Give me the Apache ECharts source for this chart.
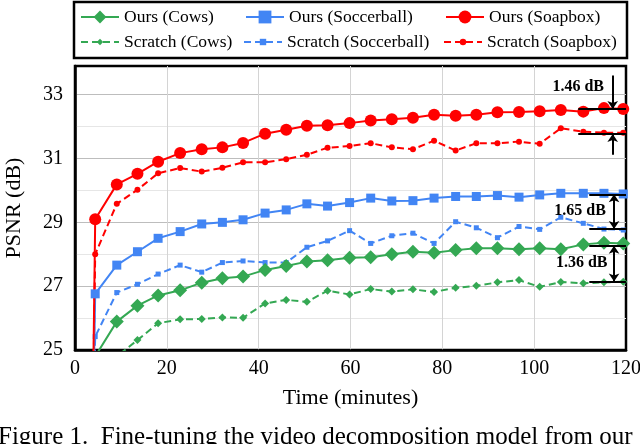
<!DOCTYPE html>
<html>
<head>
<meta charset="utf-8">
<script src="https://cdn.jsdelivr.net/npm/echarts@6/dist/echarts.min.js"></script>
<style>
  html, body { margin: 0; padding: 0; background: #fff; }
  #chart { width: 640px; height: 444px; }
</style>
</head>
<body>
<div id="chart"></div>
<script>
// time of each evaluation (minutes), shared by all runs
const times = [3.6, 4.4, 9.1, 13.6, 18.1, 22.9, 27.6, 32.1, 36.6, 41.4, 46.0, 50.5, 55.0, 59.8,
  64.4, 69.0, 73.6, 78.2, 82.9, 87.4, 92.0, 96.7, 101.2, 105.8, 110.7, 115.2, 119.4];

// PSNR (dB)
const oursCows = [23.5, 24.8, 25.89, 26.39, 26.71, 26.87, 27.11, 27.25, 27.30, 27.51, 27.63, 27.77, 27.81, 27.89,
  27.91, 28.00, 28.08, 28.05, 28.13, 28.19, 28.19, 28.16, 28.19, 28.16, 28.31, 28.36, 28.34];
const oursSoccer = [20, 26.76, 27.66, 28.08, 28.50, 28.71, 28.95, 29.00, 29.08, 29.29, 29.39, 29.58, 29.51, 29.62,
  29.76, 29.67, 29.68, 29.76, 29.81, 29.81, 29.84, 29.79, 29.86, 29.91, 29.91, 29.91, 29.89];
const oursSoapbox = [20, 29.10, 30.19, 30.52, 30.90, 31.17, 31.29, 31.35, 31.49, 31.78, 31.90, 32.03, 32.04, 32.11,
  32.19, 32.23, 32.28, 32.37, 32.34, 32.37, 32.45, 32.46, 32.48, 32.52, 32.47, 32.58, 32.55];
const scratchCows = [22, 23.5, 24.8, 25.31, 25.84, 25.96, 25.97, 26.02, 26.01, 26.46, 26.57, 26.51, 26.86, 26.74,
  26.91, 26.83, 26.90, 26.82, 26.95, 27.01, 27.12, 27.19, 26.98, 27.13, 27.09, 27.12, 27.14];
const scratchSoccer = [21, 25.42, 26.80, 27.06, 27.38, 27.66, 27.44, 27.74, 27.79, 27.74, 27.74, 28.22, 28.42, 28.74,
  28.34, 28.58, 28.66, 28.34, 29.02, 28.83, 28.52, 28.87, 28.78, 29.16, 28.97, 28.79, 28.76];
const scratchSoapbox = [20, 28.0, 29.58, 30.02, 30.54, 30.70, 30.59, 30.71, 30.88, 30.88, 30.98, 31.12, 31.34, 31.39,
  31.48, 31.35, 31.29, 31.56, 31.25, 31.48, 31.48, 31.53, 31.46, 31.95, 31.84, 31.81, 31.81];

// gap annotations: [label, upper dB, lower dB]
const gapLabels = ['1.46 dB', '1.65 dB', '1.36 dB'];
const gapUpper = [32.55, 29.88, 28.27];
const gapLower = [31.77, 28.79, 27.15];

const xTicks = [0, 20, 40, 60, 80, 100, 120];
const yTickLabels = [25, 27, 29, 31, 33];

const FONT = 'Liberation Serif';
const GREEN = '#34a853', BLUE = '#4285f4', RED = '#ff0000';

const toPts = vals => times.map((t, i) => [t, vals[i]]);

// horizontal bars at both levels plus the arrow(s) between them
function gapMarks(k, lineStart, arrowX, twoHeaded) {
  const up = gapUpper[k], lo = gapLower[k];
  const bars = [
    [{ coord: [lineStart, up] }, { coord: [120, up] }],
    [{ coord: [lineStart, lo] }, { coord: [120, lo] }]
  ];
  if (twoHeaded) {
    bars.push([{ coord: [arrowX, up], symbol: 'arrow' }, { coord: [arrowX, lo], symbol: 'arrow' }]);
  } else {
    bars.push([{ coord: [arrowX, up + 1.05], symbol: 'none' }, { coord: [arrowX, up], symbol: 'arrow' }]);
    bars.push([{ coord: [arrowX, lo - 0.65], symbol: 'none' }, { coord: [arrowX, lo], symbol: 'arrow' }]);
  }
  return {
    silent: true, animation: false, symbol: ['none', 'none'], symbolSize: 8,
    label: { show: false },
    lineStyle: { color: '#000', width: 2, type: 'solid' },
    data: bars
  };
}

function gapText(name, x, y) {
  return {
    silent: true, animation: false, symbol: 'circle', symbolSize: 0,
    itemStyle: { color: 'rgba(0,0,0,0)' },
    label: { show: true, position: 'inside', formatter: '{b}', color: '#000',
      fontFamily: FONT, fontWeight: 'bold', fontSize: 16 },
    data: [{ name: name, coord: [x, y] }]
  };
}

function ours(name, vals, color, symbol, size) {
  return { name, type: 'line', data: toPts(vals), symbol, symbolSize: size,
    lineStyle: { color, width: 2 }, itemStyle: { color }, z: 3 };
}
function scratch(name, vals, color, symbol, size) {
  return { name, type: 'line', data: toPts(vals), symbol, symbolSize: size,
    lineStyle: { color, width: 2, type: [7, 4] }, itemStyle: { color }, z: 2 };
}

const series = [
  ours('Ours (Cows)', oursCows, GREEN, 'diamond', 14),
  ours('Ours (Soccerball)', oursSoccer, BLUE, 'rect', 9),
  ours('Ours (Soapbox)', oursSoapbox, RED, 'circle', 12),
  scratch('Scratch (Cows)', scratchCows, GREEN, 'diamond', 8),
  scratch('Scratch (Soccerball)', scratchSoccer, BLUE, 'rect', 5),
  scratch('Scratch (Soapbox)', scratchSoapbox, RED, 'circle', 6)
];
series[2].markLine = gapMarks(0, 109.6, 117.1, false);
series[2].markPoint = gapText(gapLabels[0], 109.6, 33.25);
series[1].markLine = gapMarks(1, 112.0, 117.4, true);
series[1].markPoint = gapText(gapLabels[1], 110.0, 29.37);
series[0].markLine = gapMarks(2, 112.0, 117.4, true);
series[0].markPoint = gapText(gapLabels[2], 110.35, 27.74);

function legendAt(name, left, top, h) {
  return { data: [name], left, top, padding: 0, itemWidth: 38, itemHeight: h,
    textStyle: { fontFamily: FONT, fontSize: 17.5, color: '#000' } };
}

const option = {
  animation: false,
  backgroundColor: '#fff',
  legend: [
    legendAt('Ours (Cows)', 80, 8, 16),
    legendAt('Ours (Soccerball)', 245, 8, 16),
    legendAt('Ours (Soapbox)', 445, 8, 16),
    legendAt('Scratch (Cows)', 80, 33, 8),
    legendAt('Scratch (Soccerball)', 243, 33, 8),
    legendAt('Scratch (Soapbox)', 443, 33, 8)
  ],
  grid: { left: 75, right: 14, top: 66, bottom: 94, show: true, outerBoundsMode: 'none',
    borderColor: '#000', borderWidth: 2.5, backgroundColor: 'transparent' },
  xAxis: {
    type: 'value', min: 0, max: 120, interval: 20,
    name: 'Time (minutes)', nameLocation: 'middle', nameGap: 37,
    nameTextStyle: { fontFamily: FONT, fontSize: 22, color: '#000' },
    axisLine: { show: true, lineStyle: { color: '#000', width: 2.5 } },
    axisTick: { show: false },
    axisLabel: { margin: 9, fontFamily: FONT, fontSize: 20, color: '#000',
      formatter: v => xTicks.includes(v) ? String(v) : '' },
    splitLine: { show: true, showMaxLine: false, lineStyle: { color: '#d4d4d4', width: 1 } }
  },
  yAxis: {
    type: 'value', min: 25, max: 33.9, interval: 1,
    name: 'PSNR (dB)', nameLocation: 'middle', nameGap: 50,
    nameTextStyle: { fontFamily: FONT, fontSize: 22, color: '#000' },
    axisLine: { show: true, lineStyle: { color: '#000', width: 2.5 } },
    axisTick: { show: false },
    axisLabel: { margin: 12, fontFamily: FONT, fontSize: 20, color: '#000', showMaxLabel: false,
      formatter: v => yTickLabels.includes(Math.round(v * 100) / 100) ? String(v) : '' },
    splitLine: { show: true, showMaxLine: false, lineStyle: { color: ['#bdbdbd', '#e6e6e6'], width: 1 } }
  },
  graphic: [
    { type: 'rect', shape: { x: 74, y: 2, width: 553, height: 56 },
      style: { fill: 'none', stroke: '#000', lineWidth: 2.5 }, z: 10 },
    { type: 'text', left: -2, top: 425, z: 10,
      style: { text: 'Figure 1.  Fine-tuning the video decomposition model from our',
        font: '25px "Liberation Serif"', fill: '#000' } }
  ],
  series
};

const chart = echarts.init(document.getElementById('chart'));
chart.setOption(option);
</script>
</body>
</html>
